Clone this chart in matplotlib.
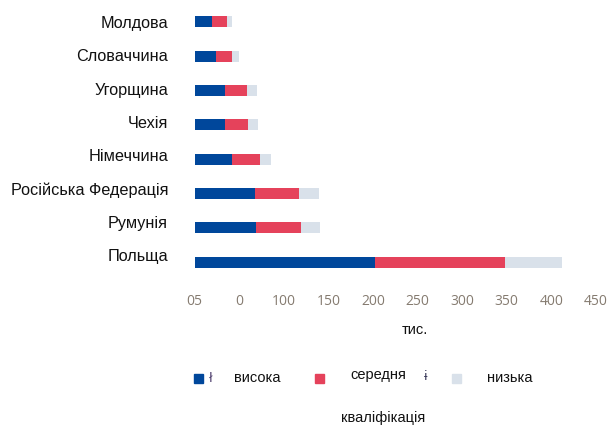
import matplotlib.pyplot as plt
from matplotlib.patches import Rectangle
from matplotlib.transforms import ScaledTranslation
import numpy as np

# countries, bottom to top
countries = ["Польща", "Румунія", "Російська Федерація", "Німеччина",
             "Чехія", "Угорщина", "Словаччина", "Молдова"]
high = [202, 69, 68, 42, 34, 34, 24, 20]
medium = [146, 50, 49, 31, 26, 25, 18, 16]
low = [64, 22, 22, 13, 11, 11, 8, 6]

xticks = [0, 50, 100, 150, 200, 250, 300, 350, 400, 450]
xtick_labels = ["05", "0", "100", "150", "200", "250", "300", "350", "400", "450"]

c_high = "#00479b"
c_mid = "#e5425b"
c_low = "#d9e1ea"

W, H = 612, 428
fig = plt.figure(figsize=(W / 100, H / 100), dpi=100)
ax = fig.add_axes([194.5 / W, 1 - 282.6 / H, 401.5 / W, 281.2 / H])

y = np.arange(len(countries))
high = np.array(high)
medium = np.array(medium)
low = np.array(low)
bh = 0.32
ax.barh(y, high, height=bh, color=c_high)
ax.barh(y, medium, left=high, height=bh, color=c_mid)
ax.barh(y, low, left=high + medium, height=bh, color=c_low)

ax.set_xlim(0, 450)
ax.set_ylim(-0.6, 7.6)
ax.set_yticks(y)
ax.set_yticklabels(countries, fontsize=11.7, family="Liberation Sans", color="#111111")
ax.set_xticks(xticks)
ax.set_xticklabels(xtick_labels, fontsize=10, family="Open Sans", color="#857b70")
ax.tick_params(axis="both", length=0)
ax.tick_params(axis="y", pad=19)
ax.tick_params(axis="x", pad=8)
for s in ax.spines.values():
    s.set_visible(False)

# labels sit a little higher than the bars toward the bottom
for i, lab in enumerate(ax.get_yticklabels()):
    lab.set_transform(lab.get_transform() +
                      ScaledTranslation(0, (7 - i) / 100, fig.dpi_scale_trans))


def fy(py):
    return 1 - py / H


fig.text(415 / W, fy(330), "тис.", ha="center", va="center",
         fontsize=10.5, family="Liberation Sans", color="#111111")

# legend drawn by hand
for x0, col in [(194, c_high), (315, c_mid), (452, c_low)]:
    fig.add_artist(Rectangle((x0 / W, fy(383)), 9 / W, 9 / H,
                             transform=fig.transFigure, color=col))
fig.text(211 / W, fy(378), "ł", ha="center", va="center", fontsize=9,
         color="#4a3a6a")
fig.text(426 / W, fy(377), "ɨ", ha="center", va="center", fontsize=9,
         color="#3a3a5a")
fig.text(257 / W, fy(378), "висока", ha="center", va="center",
         fontsize=10.5, family="Liberation Sans", color="#111111")
fig.text(378 / W, fy(375), "середня", ha="center", va="center",
         fontsize=10.5, family="Liberation Sans", color="#111111")
fig.text(510 / W, fy(378), "низька", ha="center", va="center",
         fontsize=10.5, family="Liberation Sans", color="#111111")
fig.text(383 / W, fy(418), "кваліфікація", ha="center", va="center",
         fontsize=10.5, family="Liberation Sans", color="#111111")

fig.savefig("out.png", dpi=100)
